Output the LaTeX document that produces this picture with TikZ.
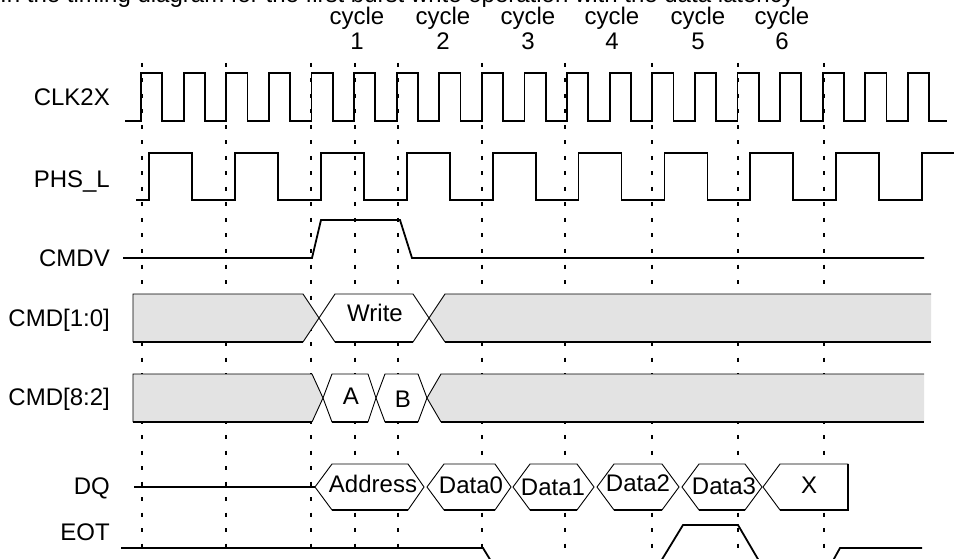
\documentclass[tikz,border=0pt]{standalone}
\usepackage{fontspec}
\setmainfont{Liberation Sans}
\newcommand\myhex[7]{%
  \filldraw[hexa] (#1,#6) -- (#2,#5) -- (#3,#5) -- (#4,#6) -- (#3,#7) -- (#2,#7) -- cycle;
  \draw[thickl] (#2,#7) -- (#3,#7);}
\begin{document}
\begin{tikzpicture}[x=1pt,y=-1pt,
  wave/.style={line width=1.8pt, line join=miter},
  gridl/.style={line width=1.6pt, dash pattern=on 4pt off 11.5pt},
  hexa/.style={fill=white, draw=black, line width=0.9pt},
  thinl/.style={draw=black, line width=0.9pt},
  thickl/.style={draw=black, line width=2pt},
  busgray/.style={fill=black!11},
  lbl/.style={font=\fontsize{24}{24}\selectfont, inner sep=0pt},
]
\useasboundingbox (0,0) rectangle (954,559);
\clip (0,0) rectangle (954,559);
\fill[white] (0,0) rectangle (954,559);

% clipped caption line at the very top
\node[lbl, anchor=base west] (caption) at (0,3) {In the timing diagram for the first burst write operation with the data latency};

% cycle labels
\foreach \x/\n in {357/1,443/2,528/3,612/4,698/5,782/6}{
  \node[lbl, anchor=base] (cy\n) at (\x,25) {cycle};
  \node[lbl, anchor=base] (cn\n) at (\x,50) {\n};
}

% dotted reference lines
\foreach \x in {142,226,311,355,398,482,565,652,738,824}
  \draw[gridl] (\x,63) -- (\x,559);

% signal names
\node[lbl, anchor=base east] (lclk) at (110,106) {CLK2X};
\node[lbl, anchor=base east] (lphs) at (110,188) {PHS\_L};
\node[lbl, anchor=base east] (lcmdv) at (110,266) {CMDV};
\node[lbl, anchor=base east] (lcmdlo) at (110,326) {CMD[1:0]};
\node[lbl, anchor=base east] (lcmdhi) at (110,405) {CMD[8:2]};
\node[lbl, anchor=base east] (ldq) at (110,494) {DQ};
\node[lbl, anchor=base east] (leot) at (110,540) {EOT};

% CLK2X
\draw[wave] (125,121) \foreach \k in {0,...,18}{ -- ({141+42.6*\k},121) -- ({141+42.6*\k},73) -- ({162.3+42.6*\k},73) -- ({162.3+42.6*\k},121)} -- (947,121);

% PHS_L
\draw[wave] (136,200) \foreach \k in {0,...,8}{ -- ({149+85.9*\k},200) -- ({149+85.9*\k},153) -- ({192+85.9*\k},153) -- ({192+85.9*\k},200)} -- (922.1,200) -- (922.1,153) -- (954,153);

% CMDV
\draw[wave] (123,258) -- (312,258) -- (321,220) -- (400,220) -- (412,258) -- (924,258);

% CMD[1:0]
\fill[busgray] (133,294) -- (303,294) -- (319,318) -- (303,342) -- (133,342) -- cycle;
\draw[thinl] (133,342) -- (133,294) -- (303,294) -- (319,318) -- (303,342);
\draw[thickl] (133,342) -- (303,342);
\myhex{319}{335}{413}{429}{294}{318}{342}
\fill[busgray] (931,294) -- (445,294) -- (429,318) -- (445,342) -- (931,342) -- cycle;
\draw[thinl] (931,294) -- (445,294) -- (429,318) -- (445,342);
\draw[thickl] (445,342) -- (931,342);
\node[lbl, anchor=base] (vwrite) at (375,321) {Write};

% CMD[8:2]
\fill[busgray] (133,374) -- (312,374) -- (323,398) -- (312,422) -- (133,422) -- cycle;
\draw[thinl] (133,422) -- (133,374) -- (312,374) -- (323,398) -- (312,422);
\draw[thickl] (133,422) -- (312,422);
\myhex{323}{332}{368}{376}{374}{398}{422}
\myhex{376}{385}{418}{427}{374}{398}{422}
\fill[busgray] (924,374) -- (441,374) -- (427,398) -- (441,422) -- (924,422) -- cycle;
\draw[thinl] (924,374) -- (441,374) -- (427,398) -- (441,422);
\draw[thickl] (441,422) -- (924,422);
\node[lbl, anchor=base] (va) at (351,404) {A};
\node[lbl, anchor=base] (vb) at (403,407) {B};

% DQ
\draw[wave] (134,487) -- (315,487);
\myhex{315}{332}{408}{424}{464}{487}{510}
\myhex{427}{444}{495}{511}{464}{487}{510}
\myhex{513}{530}{577}{594}{464}{487}{510}
\myhex{597}{614}{662}{679}{464}{487}{510}
\myhex{682}{699}{745}{762}{464}{487}{510}
\filldraw[hexa] (763,487) -- (780,464) -- (848,464) -- (848,510) -- (780,510) -- cycle;
\draw[thickl] (780,510) -- (848,510) -- (848,464);
\node[lbl, anchor=base] (vaddr) at (373,492) {Address};
\node[lbl, anchor=base] (vd0) at (471,493) {Data0};
\node[lbl, anchor=base] (vd1) at (553,495) {Data1};
\node[lbl, anchor=base] (vd2) at (638,491) {Data2};
\node[lbl, anchor=base] (vd3) at (724,494) {Data3};
\node[lbl, anchor=base] (vx) at (809,493) {X};

% EOT
\draw[wave] (121,548) -- (483,548) -- (494,566);
\draw[wave] (658,566) -- (683,525) -- (738,525) -- (762,566);
\draw[wave] (830,566) -- (840,548) -- (922,548);
\end{tikzpicture}
\end{document}
